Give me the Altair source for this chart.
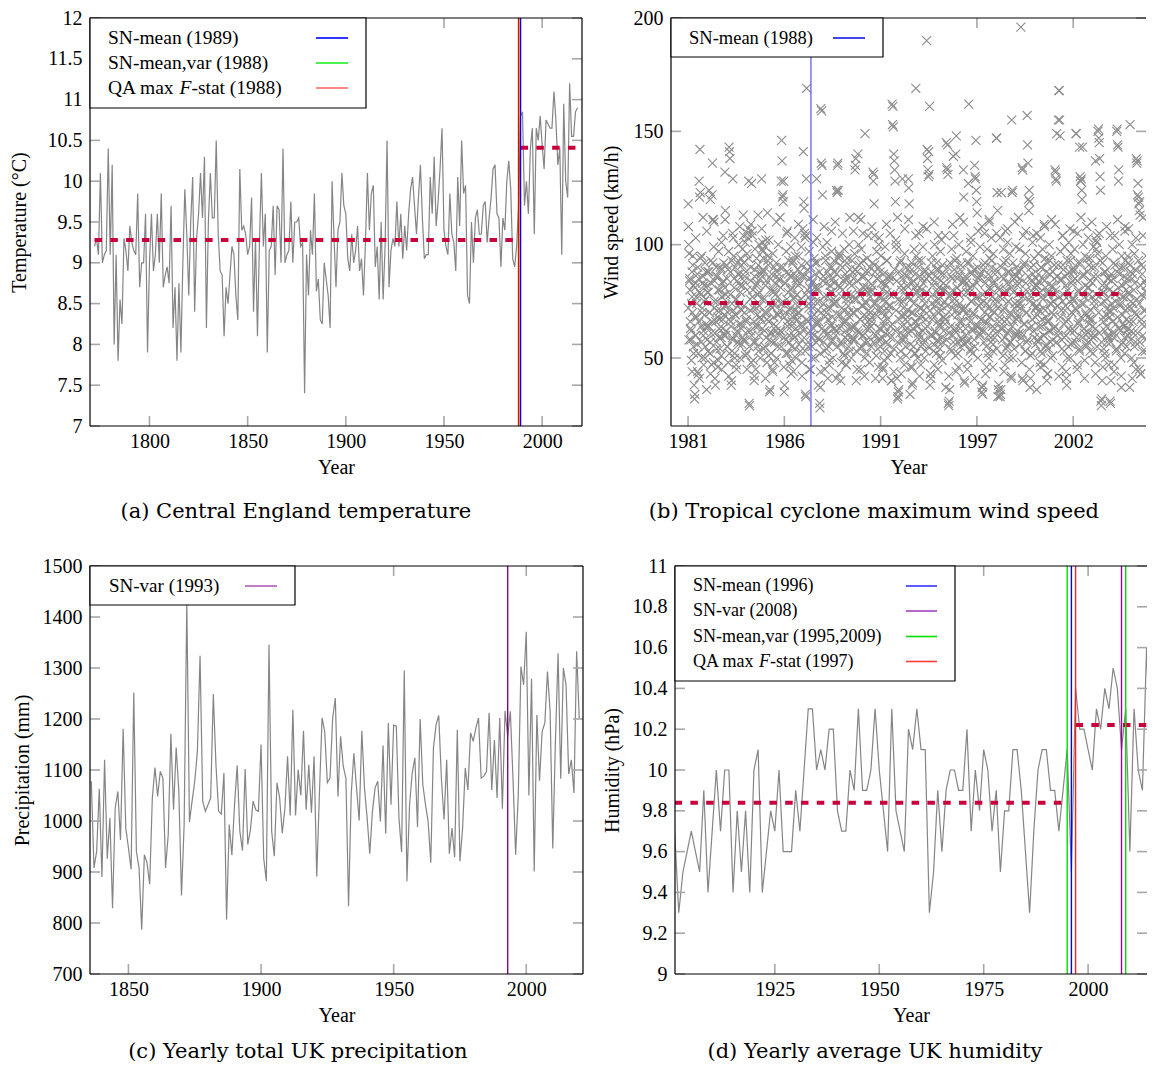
import altair as alt
import pandas as pd

FONT = "Liberation Serif"
CAPFONT = "DejaVu Serif"
LINEC = "#858585"
PTC = "#8c8c8c"
TICKC = "#a8a8a8"
MEANC = "#c8003c"
H = 408
TL = 10

# ---------------- (a) Central England temperature ----------------
a_start = 1772
a_temp = [
    9.2, 9.3, 9.1, 10.1, 9.0, 9.1, 9.15, 10.4, 9.1, 10.2,
    8.0, 9.1, 7.8, 8.55, 8.25, 9.3, 9.15, 8.9, 9.45, 9.25,
    9.15, 9.1, 9.85, 8.7, 9.0, 9.0, 9.6, 7.9, 9.0, 9.6,
    8.9, 9.1, 9.6, 9.0, 9.85, 8.7, 8.85, 8.95, 8.75, 9.7,
    8.2, 8.7, 7.8, 8.75, 7.9, 9.0, 9.9, 9.35, 8.6, 9.5,
    10.05, 8.4, 9.3, 9.6, 10.1, 9.55, 10.3, 8.2, 9.5, 10.1,
    9.55, 9.55, 10.5, 9.35, 8.9, 8.85, 8.1, 8.7, 8.5, 8.85,
    9.2, 9.1, 8.6, 8.3, 10.15, 9.4, 9.45, 9.35, 9.1, 9.2,
    9.8, 8.4, 9.3, 8.1, 9.25, 10.1, 9.2, 9.6, 7.9, 9.15,
    9.2, 9.7, 8.85, 9.7, 9.65, 9.0, 10.4, 9.0, 9.1, 9.15,
    9.75, 9.0, 9.5, 9.5, 9.55, 9.2, 9.25, 7.4, 9.1, 8.6,
    9.4, 9.1, 9.85, 8.65, 8.8, 8.3, 8.25, 9.0, 8.8, 8.6,
    8.2, 10.0, 9.3, 8.7,
    9.4, 9.5, 10.1, 9.7, 9.6, 9.05, 8.9, 9.35, 9.0, 9.15,
    9.45, 8.9, 9.05, 8.6, 9.25, 10.1, 9.4, 9.85, 9.95, 8.95,
    9.2, 8.55, 9.5, 8.55, 9.2, 10.5, 8.7, 9.15, 9.3, 9.2,
    9.75, 9.2, 9.6, 9.05, 9.45, 9.15, 9.6, 9.9, 10.05, 9.7,
    9.35, 9.8, 10.2, 9.55, 9.05, 9.1, 9.1, 10.05, 9.6, 10.3,
    9.45, 9.75, 10.15, 10.65, 9.4, 9.2, 9.1, 9.85, 9.35, 9.25,
    8.9, 10.05, 9.45, 10.5, 9.85, 9.95, 8.6, 8.5, 9.5, 9.0,
    9.55, 9.65, 9.35, 9.35, 9.7, 9.75, 9.25, 9.55, 9.8, 10.15,
    10.2, 9.6, 9.55, 8.95, 9.55, 9.4, 10.0, 10.25, 9.9, 9.05,
    8.95, 9.2, 9.7,
    10.8, 10.85, 9.7, 10.0, 9.6, 10.4, 10.65, 9.35, 10.65, 10.5,
    10.8, 10.45, 10.15, 10.75, 10.7, 10.65, 10.65, 11.1, 10.75, 10.2,
    10.4, 9.1, 10.95, 10.0, 9.8, 11.2, 10.55, 10.55, 10.85, 10.9,
]
a_xdom = [1769.7, 2020.3]
a_ydom = [7, 12]
a_xticks = [1800, 1850, 1900, 1950, 2000]
a_yticks = [7, 7.5, 8, 8.5, 9, 9.5, 10, 10.5, 11, 11.5, 12]
a_mean_from = [1772, 1989]
a_mean_to = [1988, 2018]
a_mean_val = [9.28, 10.41]
a_labels = ["SN-mean (1989)", "SN-mean,var (1988)", "QA max F-stat (1988)"]
a_line_years = [1989, 1988, 1988]
a_line_colors = ["#0000ff", "#00e000", "#ff0000"]
a_legend_colors = ["#0000ff", "#22ee22", "#ff6a6a"]

# ---------------- (b) Tropical cyclone max wind speed ----------------
b_seasons = {
    1981: [118, 100, 96, 84, 80, 66, 58, 62, 74, 88, 70, 95, 82, 52, 38, 32, 34, 60, 83, 77, 68, 56, 44, 90, 43, 85, 128, 121, 142, 123, 78, 64, 95, 50, 72, 86, 60, 47, 82, 69, 92, 55, 76, 65],
    1982: [36, 58, 82, 88, 79, 64, 124, 70, 52, 120, 93, 61, 47, 122, 136, 111, 111, 99, 72, 84, 41, 38, 66, 90, 57, 75, 86, 68, 49, 97, 63, 80, 54, 71, 89, 59, 45, 77, 83, 67, 104, 92, 60, 73],
    1983: [132, 115, 78, 62, 91, 85, 55, 70, 48, 97, 143, 141, 138, 88, 66, 38, 40, 74, 59, 129, 103, 95, 81, 52, 69, 90, 76, 60, 45, 84, 92, 57, 73, 100, 65, 87, 50, 79, 94, 63, 71, 56, 98, 82],
    1984: [113, 92, 84, 70, 58, 101, 88, 66, 52, 96, 105, 103, 107, 128, 30, 29, 76, 62, 90, 48, 127, 106, 104, 80, 72, 57, 40, 86, 98, 64, 45, 82, 94, 69, 55, 78, 91, 60, 100, 73, 85, 50, 67, 88],
    1985: [129, 98, 101, 97, 94, 88, 76, 62, 55, 99, 102, 84, 70, 48, 114, 95, 91, 66, 58, 35, 36, 80, 73, 52, 87, 61, 45, 96, 79, 68, 90, 57, 83, 74, 64, 92, 50, 86, 69, 77, 100, 60, 85, 71],
    1986: [90, 74, 62, 128, 146, 137, 121, 122, 119, 128, 35, 38, 83, 70, 58, 97, 105, 88, 66, 52, 79, 93, 60, 47, 86, 72, 99, 64, 55, 81, 92, 68, 44, 76, 87, 59, 71, 95, 63, 50, 84, 78, 67, 89],
    1987: [82, 95, 70, 61, 88, 53, 76, 99, 64, 48, 86, 107, 141, 119, 116, 105, 103, 34, 33, 129, 169, 92, 80, 66, 57, 74, 97, 85, 62, 45, 90, 78, 68, 55, 83, 72, 101, 60, 94, 81, 50, 87, 75, 65],
    1988: [129, 92, 80, 71, 38, 66, 58, 30, 28, 37, 160, 136, 159, 135, 122, 99, 86, 74, 62, 53, 45, 95, 83, 70, 60, 101, 88, 77, 67, 55, 47, 90, 82, 72, 64, 57, 97, 79, 68, 50, 85, 76, 93, 63],
    1989: [88, 75, 62, 41, 124, 123, 135, 136, 124, 94, 96, 95, 81, 69, 40, 56, 48, 77, 90, 65, 52, 84, 98, 71, 59, 87, 66, 47, 92, 78, 60, 85, 73, 55, 100, 68, 89, 76, 63, 50, 82, 93, 58, 70],
    1990: [85, 70, 58, 96, 133, 135, 138, 40, 76, 88, 62, 140, 112, 100, 91, 80, 67, 54, 45, 98, 86, 73, 60, 105, 93, 81, 69, 57, 149, 88, 74, 63, 52, 94, 79, 66, 84, 71, 59, 48, 90, 77, 64, 55],
    1991: [80, 66, 92, 132, 128, 131, 118, 104, 88, 74, 60, 51, 97, 85, 71, 58, 46, 100, 90, 77, 63, 55, 95, 83, 70, 59, 41, 45, 87, 76, 64, 53, 99, 82, 69, 57, 93, 79, 67, 50, 86, 73, 61, 84],
    1992: [78, 64, 52, 40, 40, 162, 153, 161, 152, 140, 137, 133, 128, 119, 102, 100, 98, 41, 32, 33, 35, 36, 88, 75, 61, 50, 93, 82, 69, 58, 129, 85, 72, 60, 47, 96, 80, 67, 55, 90, 77, 63, 86, 71],
    1993: [129, 125, 118, 88, 34, 46, 76, 62, 92, 38, 39, 70, 84, 55, 98, 81, 66, 52, 169, 95, 79, 64, 50, 90, 77, 61, 105, 86, 72, 59, 47, 93, 80, 68, 56, 99, 83, 71, 58, 89, 74, 63, 53, 85],
    1994: [190, 142, 138, 133, 130, 141, 131, 161, 38, 43, 41, 88, 74, 60, 95, 82, 69, 56, 47, 100, 86, 73, 61, 52, 92, 79, 66, 57, 104, 89, 76, 64, 54, 97, 84, 71, 59, 49, 91, 80, 68, 62, 87, 75],
    1995: [80, 67, 37, 145, 134, 133, 144, 131, 30, 29, 31, 36, 92, 78, 64, 53, 98, 85, 72, 60, 139, 104, 89, 76, 62, 51, 140, 148, 94, 81, 69, 57, 46, 100, 87, 74, 63, 55, 91, 79, 66, 58, 84, 71],
    1996: [133, 121, 40, 39, 86, 72, 60, 97, 83, 70, 57, 48, 127, 162, 92, 79, 66, 54, 101, 88, 75, 63, 52, 95, 82, 69, 58, 135, 130, 129, 146, 124, 119, 114, 90, 77, 64, 85, 73, 61, 99, 87, 74, 67],
    1997: [35, 37, 34, 38, 89, 75, 62, 105, 92, 79, 66, 55, 46, 98, 85, 72, 60, 50, 110, 94, 81, 68, 57, 103, 90, 77, 64, 53, 96, 83, 70, 59, 87, 74, 61, 147, 147, 123, 115, 33, 36, 38, 80, 68],
    1998: [33, 34, 36, 123, 90, 76, 63, 51, 98, 85, 72, 59, 47, 106, 93, 80, 67, 55, 101, 88, 75, 62, 50, 96, 83, 70, 57, 41, 155, 123, 124, 92, 79, 66, 54, 87, 74, 61, 99, 86, 73, 60, 82, 69],
    1999: [88, 74, 61, 98, 85, 72, 196, 59, 48, 134, 133, 40, 104, 91, 78, 65, 53, 96, 83, 70, 57, 157, 144, 136, 120, 115, 124, 119, 37, 41, 90, 77, 64, 52, 101, 87, 74, 62, 94, 81, 68, 56, 85, 72],
    2000: [36, 82, 69, 57, 96, 84, 71, 59, 48, 103, 90, 77, 64, 52, 98, 85, 72, 60, 47, 108, 94, 81, 68, 56, 40, 43, 92, 79, 66, 54, 100, 87, 74, 62, 50, 95, 82, 70, 58, 88, 75, 63, 91, 78],
    2001: [133, 132, 129, 128, 149, 86, 73, 60, 155, 168, 168, 155, 148, 97, 84, 71, 58, 46, 104, 91, 78, 65, 53, 99, 86, 73, 60, 41, 38, 93, 80, 67, 55, 101, 88, 75, 62, 50, 96, 83, 70, 57, 89, 76],
    2002: [88, 75, 62, 98, 85, 72, 149, 149, 59, 47, 105, 92, 79, 66, 54, 143, 130, 128, 128, 129, 124, 120, 143, 100, 87, 74, 61, 49, 95, 82, 69, 56, 108, 94, 81, 68, 57, 91, 78, 65, 53, 84, 71, 60],
    2003: [90, 77, 64, 52, 99, 86, 73, 60, 48, 137, 102, 98, 101, 104, 96, 150, 151, 147, 145, 138, 130, 124, 31, 29, 32, 40, 92, 79, 66, 54, 88, 75, 62, 50, 95, 82, 69, 57, 85, 72, 59, 47, 80, 68],
    2004: [31, 30, 40, 87, 74, 61, 98, 85, 72, 59, 47, 104, 91, 78, 65, 53, 150, 151, 144, 143, 128, 133, 100, 87, 74, 62, 50, 37, 95, 82, 69, 57, 90, 77, 64, 52, 108, 93, 80, 67, 55, 85, 72, 60],
    2005: [92, 79, 66, 37, 153, 88, 75, 62, 50, 100, 87, 74, 61, 48, 96, 83, 70, 57, 45, 138, 136, 137, 122, 127, 121, 118, 115, 119, 113, 43, 43, 91, 78, 65, 53, 104, 90, 77, 64, 84, 71, 58, 95, 82],
}
# extra storms in the dense core of each season
b_core = {
    1981: [72, 58, 85, 63, 49, 77, 91, 55, 68, 81, 60, 74, 87, 52, 66, 79, 94, 57, 70, 83, 62, 75, 50, 88],
    1982: [64, 79, 53, 88, 70, 57, 83, 66, 92, 48, 75, 61, 86, 54, 71, 80, 59, 67, 90, 51, 77, 63, 84, 69],
    1983: [81, 60, 73, 55, 89, 67, 52, 78, 64, 93, 58, 71, 85, 50, 69, 76, 62, 87, 56, 74, 82, 65, 91, 59],
    1984: [58, 73, 86, 51, 67, 80, 62, 94, 55, 71, 84, 60, 77, 49, 66, 89, 57, 72, 83, 64, 53, 79, 68, 87],
    1985: [76, 63, 89, 54, 70, 82, 59, 67, 93, 51, 74, 61, 85, 57, 72, 80, 65, 48, 78, 62, 88, 55, 69, 84],
    1986: [62, 81, 55, 74, 90, 59, 68, 83, 52, 76, 64, 87, 57, 71, 80, 49, 66, 93, 60, 77, 54, 85, 69, 73],
    1987: [70, 56, 83, 65, 91, 58, 74, 62, 86, 53, 78, 67, 89, 55, 72, 81, 60, 75, 50, 84, 63, 69, 92, 57],
    1988: [66, 81, 59, 75, 88, 52, 70, 63, 84, 57, 77, 68, 93, 54, 72, 61, 86, 49, 79, 65, 90, 58, 74, 83],
    1989: [74, 60, 87, 55, 69, 82, 63, 91, 57, 72, 80, 66, 51, 85, 62, 76, 94, 58, 70, 83, 53, 78, 64, 88],
    1990: [59, 76, 64, 89, 53, 71, 84, 61, 78, 67, 92, 55, 73, 60, 86, 50, 75, 68, 81, 57, 88, 63, 70, 79],
    1991: [68, 82, 57, 74, 91, 60, 69, 85, 54, 77, 63, 88, 58, 72, 80, 66, 49, 83, 61, 75, 93, 56, 71, 86],
    1992: [73, 59, 86, 65, 78, 54, 89, 62, 71, 84, 57, 76, 67, 92, 53, 80, 64, 75, 58, 87, 69, 51, 82, 66],
    1993: [61, 77, 90, 56, 70, 83, 63, 74, 52, 87, 66, 79, 59, 93, 68, 81, 55, 72, 85, 62, 76, 50, 88, 67],
    1994: [79, 64, 55, 86, 71, 60, 92, 67, 78, 53, 84, 62, 75, 89, 58, 70, 81, 65, 51, 87, 73, 57, 83, 68],
    1995: [65, 82, 58, 73, 90, 61, 77, 54, 86, 69, 80, 57, 74, 93, 63, 71, 85, 52, 78, 66, 89, 59, 72, 83],
    1996: [71, 56, 84, 63, 79, 92, 58, 68, 81, 53, 75, 87, 62, 70, 89, 55, 77, 64, 83, 50, 73, 86, 60, 67],
    1997: [62, 78, 91, 57, 70, 83, 65, 74, 52, 87, 68, 80, 59, 93, 71, 56, 84, 63, 76, 89, 54, 72, 81, 66],
    1998: [77, 63, 86, 58, 71, 92, 66, 79, 54, 83, 61, 75, 88, 57, 69, 81, 64, 50, 85, 72, 60, 90, 67, 78],
    1999: [68, 83, 56, 74, 89, 61, 77, 65, 92, 53, 80, 70, 58, 86, 63, 75, 51, 84, 67, 79, 91, 59, 72, 82],
    2000: [73, 58, 87, 64, 79, 53, 90, 67, 76, 60, 84, 71, 55, 88, 66, 78, 62, 93, 57, 74, 81, 51, 69, 85],
    2001: [64, 80, 57, 73, 91, 62, 77, 68, 85, 54, 75, 89, 59, 71, 82, 66, 50, 87, 63, 78, 93, 56, 70, 84],
    2002: [76, 62, 89, 57, 71, 84, 65, 80, 53, 92, 68, 74, 59, 86, 63, 77, 70, 55, 88, 61, 81, 67, 94, 58],
    2003: [67, 83, 59, 75, 90, 63, 78, 55, 86, 70, 61, 93, 74, 57, 82, 68, 79, 52, 88, 64, 76, 60, 85, 71],
    2004: [70, 57, 84, 66, 79, 92, 61, 75, 54, 88, 68, 81, 63, 73, 90, 56, 77, 65, 86, 59, 71, 83, 62, 95],
    2005: [63, 78, 91, 58, 72, 85, 66, 80, 55, 89, 69, 76, 61, 93, 74, 57, 82, 67, 87, 60, 71, 84, 53, 79],
}
# storms at the upper / lower fringe of the core
b_fringe = {
    1981: [108, 44, 103, 41, 112], 1982: [106, 43, 110, 46, 101], 1983: [111, 42, 105, 47, 108],
    1984: [104, 45, 109, 42, 113], 1985: [107, 41, 102, 44, 110], 1986: [112, 46, 106, 43, 103],
    1987: [109, 42, 104, 45, 111], 1988: [103, 44, 108, 41, 106], 1989: [110, 43, 105, 47, 112],
    1990: [106, 45, 111, 42, 104], 1991: [108, 41, 103, 46, 109], 1992: [105, 44, 112, 43, 107],
    1993: [111, 46, 104, 42, 108], 1994: [107, 43, 110, 45, 102], 1995: [104, 42, 109, 44, 112],
    1996: [110, 45, 103, 41, 106], 1997: [108, 43, 111, 46, 105], 1998: [103, 44, 107, 42, 110],
    1999: [112, 41, 106, 45, 104], 2000: [105, 46, 109, 43, 111], 2001: [109, 42, 104, 44, 107],
    2002: [106, 45, 112, 41, 103], 2003: [110, 43, 105, 46, 108], 2004: [104, 44, 111, 42, 106],
    2005: [107, 41, 103, 45, 112],
}
b_xdom = [1980.07, 2005.97]
b_ydom = [20, 200]
b_xticks = [1981, 1986.25, 1991.5, 1996.75, 2002]
b_xtick_labels = ["1981", "1986", "1991", "1997", "2002"]
b_yticks = [50, 100, 150, 200]
b_mean_from = [1981.0, 1987.7]
b_mean_to = [1987.7, 2004.7]
b_mean_val = [74.3, 78.2]
b_labels = ["SN-mean (1988)"]
b_line_years = [1987.7]
b_line_colors = ["#6a6aff"]
b_legend_colors = ["#1515e6"]

# ---------------- (c) UK precipitation ----------------
c_start = 1836
c_prec = [
    1078, 908, 940, 1063, 890, 1120, 926, 1006, 829, 1025,
    1058, 963, 1181, 986, 947, 905, 1252, 940, 908, 787,
    934, 918, 876, 1045, 1105, 1048, 1097, 1084, 908, 973,
    1171, 1022, 1144, 1058, 854, 993, 1430, 998, 1039, 1078,
    1137, 1324, 1039, 1019, 1032, 1045, 1249, 1110, 1019, 1014,
    1094, 807, 993, 933, 1032, 1109, 980, 942, 1102, 954,
    983, 1039, 1022, 1019, 1150, 927, 882, 1346, 980, 931,
    1075, 1046, 976, 1025, 1127, 1011, 1218, 1011, 1101, 1050,
    1177, 1022, 1110, 1016, 1127, 891, 1052, 1202, 1176, 1075,
    1084, 1202,
    1241, 1048, 1166, 1107, 1084, 833, 1052, 1133, 1065, 1001,
    1177, 1065, 1006, 936, 1019, 1065, 1078, 999, 1148, 975,
    1192, 1032, 1188, 1186, 1006, 939, 1295, 882, 1032, 1094,
    1124, 988, 1200, 1071, 1032, 999, 918, 1143, 1189, 1207,
    1084, 1003, 1120, 936, 986, 929, 1179, 921, 986, 1104,
    1061, 1173, 1156, 1182, 1202, 1084, 1088, 1097, 1212, 1061,
    1159, 1045, 1202, 1024, 1216, 1166, 1215, 1084, 934, 1052,
    1303, 1267, 1371, 1050, 1279, 901, 1208, 1079, 1176, 1192,
    1293, 1215, 946, 1156, 1329, 1083, 1300, 1267, 1092, 1120,
    1055, 1333, 1200,
]
c_xdom = [1835.5, 2021.4]
c_ydom = [700, 1500]
c_xticks = [1850, 1900, 1950, 2000]
c_yticks = [700, 800, 900, 1000, 1100, 1200, 1300, 1400, 1500]
c_labels = ["SN-var (1993)"]
c_line_years = [1993]
c_line_colors = ["#7a0a7a"]
c_legend_colors = ["#b060b8"]

# ---------------- (d) UK humidity ----------------
d_start = 1901
d_hum = [
    9.7, 9.3, 9.5, 9.6, 9.7, 9.6, 9.5, 9.9, 9.4, 9.7,
    10.0, 9.7, 10.0, 10.0, 9.4, 9.8, 9.5, 9.8, 9.4, 10.0,
    10.1, 9.4, 9.6, 9.8, 9.7, 10.0, 9.6, 9.6, 9.6, 9.9,
    9.7, 10.0, 10.3, 10.3, 10.0, 10.1, 10.0, 10.2, 10.2, 9.8,
    9.7, 9.7, 10.0, 9.9, 10.3, 9.9, 9.9, 10.0, 10.3, 10.0,
    9.8, 9.6, 10.3, 9.8, 9.7, 9.6, 10.2, 10.1, 10.3, 10.1,
    10.1, 9.3, 9.5, 9.9, 9.6, 9.9, 10.0, 10.0, 9.9, 9.9,
    10.2, 9.7, 10.0, 9.8, 10.1, 10.0, 9.7, 9.9, 9.5, 9.8,
    9.8, 10.1, 10.1, 9.9, 9.6, 9.3, 9.7, 10.0, 10.1, 10.1,
    9.9, 9.9, 9.7, 9.9, 10.1, 9.5, 10.4, 10.2, 10.2, 10.1,
    10.0, 10.3, 10.2, 10.4, 10.3, 10.5, 10.4, 10.1, 10.3, 9.6,
    10.3, 10.0, 9.9, 10.6, 10.0, 10.3, 10.45,
]
d_xdom = [1901.1, 2014.1]
d_ydom = [9, 11]
d_xticks = [1925, 1950, 1975, 2000]
d_yticks = [9, 9.2, 9.4, 9.6, 9.8, 10, 10.2, 10.4, 10.6, 10.8, 11]
d_mean_from = [1901, 1997]
d_mean_to = [1994.5, 2017.3]
d_mean_val = [9.84, 10.22]
d_labels = ["SN-mean (1996)", "SN-var (2008)", "SN-mean,var (1995,2009)", "QA max F-stat (1997)"]
d_legend_colors = ["#3333ff", "#a040c0", "#00e000", "#ff3b3b"]
d_line_years = [1995, 2009, 1996, 2008, 1997]
d_line_colors = ["#00dd00", "#00dd00", "#0000ff", "#990099", "#ff2020"]

# ---------------- helpers ----------------
XPATH = "M-1,-1L1,1M-1,1L1,-1"
ONE = pd.DataFrame({"k": [0]})
CW = {"Q": 0.722, "A": 0.722, " ": 0.25, "m": 0.778, "a": 0.444, "x": 0.5}


def sc(dom):
    return alt.Scale(domain=dom, nice=False, zero=False)


def x_axis(values, label_expr=None):
    kw = dict(values=values, title="Year", format="d", ticks=False, domain=False, grid=False,
              labelFont=FONT, labelFontSize=20, labelPadding=5, labelFlush=False, labelOverlap=False,
              labelColor="black", titleFont=FONT, titleFontSize=20, titleFontWeight="normal",
              titlePadding=6, titleColor="black")
    if label_expr:
        kw["labelExpr"] = label_expr
    return alt.Axis(**kw)


def y_axis(values, fmt, title, title_pad):
    return alt.Axis(values=values, format=fmt, title=title, ticks=False, domain=False, grid=False,
                    labelFont=FONT, labelFontSize=20, labelPadding=8, labelFlush=False,
                    labelOverlap=False, labelColor="black", titleFont=FONT, titleFontSize=20,
                    titleFontWeight="normal", titlePadding=title_pad, titleColor="black")


class Frame:
    def __init__(self, W, xdom, ydom, xax, yax):
        self.W, self.xdom, self.ydom, self.xax, self.yax = W, xdom, ydom, xax, yax

    def X(self, f):
        return alt.X(f, type="quantitative", scale=sc(self.xdom), axis=self.xax)

    def Y(self, f):
        return alt.Y(f, type="quantitative", scale=sc(self.ydom), axis=self.yax)


def tick_layers(fr, xticks, yticks):
    tx = pd.DataFrame({"tx": xticks})
    ty = pd.DataFrame({"ty": yticks})
    rx = alt.Chart(tx).mark_rule(color=TICKC, strokeWidth=1.6)
    ry = alt.Chart(ty).mark_rule(color=TICKC, strokeWidth=1.6)
    return [
        rx.encode(x=fr.X("tx"), y=alt.value(H), y2=alt.value(H - TL)),
        rx.encode(x=fr.X("tx"), y=alt.value(0), y2=alt.value(TL)),
        ry.encode(y=fr.Y("ty"), x=alt.value(0), x2=alt.value(TL)),
        ry.encode(y=fr.Y("ty"), x=alt.value(fr.W), x2=alt.value(fr.W - TL)),
    ]


def frame_layers(W, right=True):
    r = alt.Chart(ONE).mark_rule(color="black", strokeWidth=1.2)
    out = [
        r.encode(x=alt.value(0), x2=alt.value(W), y=alt.value(0)),
        r.encode(x=alt.value(0), x2=alt.value(W), y=alt.value(H)),
        r.encode(x=alt.value(0), y=alt.value(0), y2=alt.value(H)),
    ]
    if right:
        out.append(r.encode(x=alt.value(W), y=alt.value(0), y2=alt.value(H)))
    return out


def vline_layers(fr, years, colors):
    out = []
    for yr, col in zip(years, colors):
        out.append(alt.Chart(pd.DataFrame({"vx": [yr]})).mark_rule(color=col, strokeWidth=1.4).encode(
            x=fr.X("vx")))
    return out


def mean_layer(fr, x1, x2, vals):
    df = pd.DataFrame({"m1": x1, "m2": x2, "mv": vals})
    return alt.Chart(df).mark_rule(color=MEANC, strokeWidth=4, strokeDash=[7.5, 8.3], clip=True).encode(
        x=fr.X("m1"), x2="m2:Q", y=fr.Y("mv"))


def split_label(lab):
    if "F-stat" in lab:
        pre, post = lab.split("F-stat")
        return [(pre, False), ("F", True), ("-stat" + post, False)]
    return [(lab, False)]


def legend_layers(labels, colors, box_w, box_h, text_x, rows, lx1, lx2, fs):
    out = [alt.Chart(ONE).mark_rect(fill="white", stroke="black", strokeWidth=1.2).encode(
        x=alt.value(0), x2=alt.value(box_w), y=alt.value(0), y2=alt.value(box_h))]
    for lab, col, ry in zip(labels, colors, rows):
        cx = text_x
        for txt, ital in split_label(lab):
            out.append(alt.Chart(ONE).mark_text(
                align="left", baseline="middle", font=FONT, fontSize=fs,
                fontStyle="italic" if ital else "normal", color="black").encode(
                x=alt.value(cx), y=alt.value(ry), text=alt.value(txt.strip())))
            if ital:
                cx += 0.611 * fs
            else:
                cx += sum(CW.get(ch, 0.5) for ch in txt) * fs
        out.append(alt.Chart(ONE).mark_rule(color=col, strokeWidth=1.6).encode(
            x=alt.value(lx1), x2=alt.value(lx2), y=alt.value(ry)))
    return out


def caption(text, offset):
    return alt.TitleParams(text, orient="bottom", anchor="middle", frame="bounds", font=CAPFONT,
                           fontSize=21, fontWeight="normal", color="black", offset=offset)


# ---------------- panel (a) ----------------
fa = Frame(492, a_xdom, a_ydom, x_axis(a_xticks), y_axis(a_yticks, "~g", "Temperature (°C)", 18))
dfa = pd.DataFrame({"year": [a_start + i for i in range(len(a_temp))], "val": a_temp})
la = alt.Chart(dfa).mark_line(color=LINEC, strokeWidth=1.2, clip=True).encode(
    x=fa.X("year"), y=fa.Y("val"))
pa = alt.layer(
    la, mean_layer(fa, a_mean_from, a_mean_to, a_mean_val),
    *vline_layers(fa, a_line_years, a_line_colors),
    *tick_layers(fa, a_xticks, a_yticks),
    *frame_layers(fa.W, True),
    *legend_layers(a_labels, a_legend_colors, 276, 90, 18, [20, 45, 70], 226, 258, 19.5),
).properties(width=fa.W, height=H, title=caption("(a) Central England temperature", 24))

# ---------------- panel (b) ----------------
b_expr = ""
for v, lab in zip(b_xticks, b_xtick_labels):
    b_expr += "abs(datum.value - %s) < 0.01 ? '%s' : " % (v, lab)
b_expr += "''"
fb = Frame(475, b_xdom, b_ydom, x_axis(b_xticks, b_expr), y_axis(b_yticks, "d", "Wind speed (km/h)", 12))
rows_b = []
for src, off in ((b_seasons, 0.5), (b_core, 0.25), (b_fringe, 0.1)):
    for s, vals in src.items():
        n = len(vals)
        for i, v in enumerate(vals):
            rows_b.append({"t": s + (i + off) / n, "w": v})
dfb = pd.DataFrame(rows_b)
lb = alt.Chart(dfb).mark_point(shape=XPATH, size=80, filled=False, color=PTC, opacity=1,
                               strokeWidth=1.1, clip=True).encode(x=fb.X("t"), y=fb.Y("w"))
pb = alt.layer(
    lb, mean_layer(fb, b_mean_from, b_mean_to, b_mean_val),
    *vline_layers(fb, b_line_years, b_line_colors),
    *tick_layers(fb, b_xticks, b_yticks),
    *frame_layers(fb.W, False),
    *legend_layers(b_labels, b_legend_colors, 212, 39, 18, [20], 162, 194, 18.5),
).properties(width=fb.W, height=H, title=caption("(b) Tropical cyclone maximum wind speed", 24))

# ---------------- panel (c) ----------------
fc = Frame(493, c_xdom, c_ydom, x_axis(c_xticks), y_axis(c_yticks, "d", "Precipitation (mm)", 10))
dfc = pd.DataFrame({"year": [c_start + i for i in range(len(c_prec))], "val": c_prec})
lc = alt.Chart(dfc).mark_line(color=LINEC, strokeWidth=1.2, clip=True).encode(
    x=fc.X("year"), y=fc.Y("val"))
pc = alt.layer(
    lc,
    *vline_layers(fc, c_line_years, c_line_colors),
    *tick_layers(fc, c_xticks, c_yticks),
    *frame_layers(fc.W, True),
    *legend_layers(c_labels, c_legend_colors, 205, 39, 19, [20], 155, 187, 19),
).properties(width=fc.W, height=H, title=caption("(c) Yearly total UK precipitation", 16))

# ---------------- panel (d) ----------------
fd = Frame(472, d_xdom, d_ydom, x_axis(d_xticks), y_axis(d_yticks, "~g", "Humidity (hPa)", 10))
dfd = pd.DataFrame({"year": [d_start + i for i in range(len(d_hum))], "val": d_hum})
ld = alt.Chart(dfd).mark_line(color=LINEC, strokeWidth=1.2, clip=True).encode(
    x=fd.X("year"), y=fd.Y("val"))
pdd = alt.layer(
    ld, mean_layer(fd, d_mean_from, d_mean_to, d_mean_val),
    *vline_layers(fd, d_line_years, d_line_colors),
    *tick_layers(fd, d_xticks, d_yticks),
    *frame_layers(fd.W, False),
    *legend_layers(d_labels, d_legend_colors, 280, 115, 18, [20, 45, 70.5, 95.5], 231, 262, 18),
).properties(width=fd.W, height=H, title=caption("(d) Yearly average UK humidity", 16))

row1 = alt.hconcat(pa, pb, spacing=18)
row2 = alt.hconcat(pc, pdd, spacing=18)
chart = alt.vconcat(row1, row2, spacing=34).properties(
    padding={"left": 1, "top": 0, "right": 0, "bottom": 0}
).configure_view(stroke="transparent", strokeWidth=0)

chart.save("out.html", embed_options={"renderer": "svg", "actions": False})
